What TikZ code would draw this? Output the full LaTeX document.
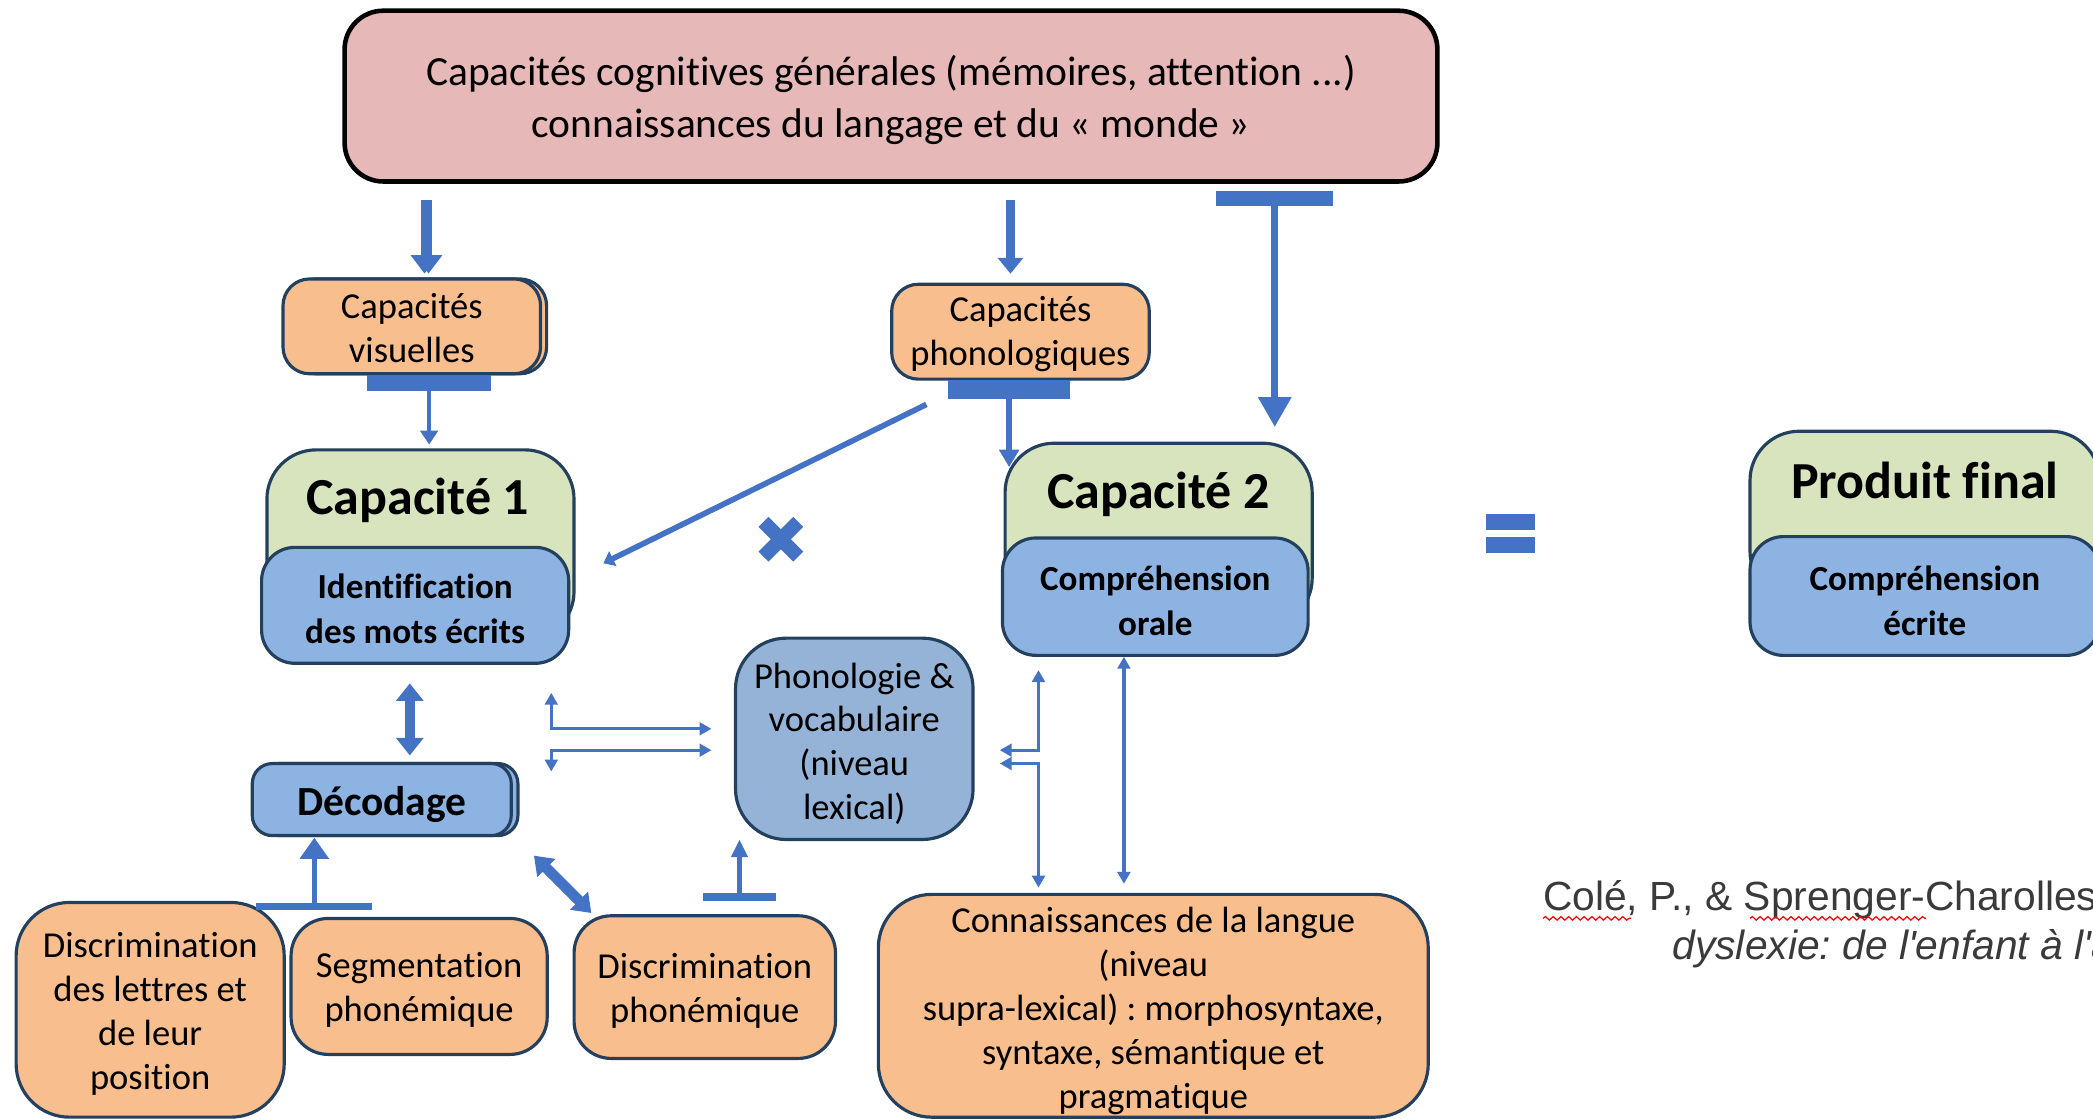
\documentclass[tikz,border=0pt]{standalone}
\usepackage{fontspec}
\setmainfont{Carlito}[Ligatures=NoCommon]
\newfontfamily\arialf{Liberation Sans}
\usetikzlibrary{arrows.meta,decorations.pathmorphing,calc}
\definecolor{abl}{HTML}{4472C4}
\definecolor{bord}{HTML}{24405F}
\definecolor{org}{HTML}{F8BE8D}
\definecolor{grn}{HTML}{D7E4BD}
\definecolor{blu}{HTML}{8DB3E2}
\definecolor{blu2}{HTML}{95B3D7}
\definecolor{pnk}{HTML}{E6B8B7}
\definecolor{cgrey}{HTML}{3A3A3A}
\frenchspacing
\tikzset{
  every node/.style={inner sep=0pt, outer sep=0pt},
  bx/.style={draw=bord, line width=0.9pt},
  orgbox/.style={bx, fill=org},
  orgtxt/.style={align=center, font=\fontsize{10.4}{12.5}\selectfont, yshift=-1.1pt},
  grnbox/.style={bx, fill=grn, rounded corners=14pt, minimum width=87.4pt},
  blubox/.style={bx, fill=blu, rounded corners=9.5pt},
  blutxt/.style={align=center, font=\bfseries\fontsize{10}{12.8}\selectfont, yshift=-1.1pt},
  headtxt/.style={font=\bfseries\fontsize{14.8}{18}\selectfont},
  conn/.style={draw=abl, line cap=butt},
  tbar/.style={fill=abl},
  thin2/.style={conn, line width=0.9pt, {Triangle[width=3.6pt,length=3.4pt]}-{Triangle[width=3.6pt,length=3.4pt]}}
}
\begin{document}
\begin{tikzpicture}[x=0.013348cm, y=-0.013348cm]
\useasboundingbox (0,0) rectangle (1568,838);
\clip (0,0) rectangle (1568,838);

% ---------- top box
\node[bx, fill=pnk, draw=black, line width=1.3pt, rounded corners=11pt,
      minimum width=311pt, minimum height=48.6pt] (top) at (667.5,72) {};
\node[align=center, font=\fontsize{11.8}{14.8}\selectfont, yshift=-1.1pt] (topt) at (top)
  {Capacités cognitives générales (mémoires, attention ...)\\connaissances du langage et du «~monde~»};

% ---------- capacities boxes
\node[orgbox, rounded corners=7.6pt, minimum width=73.3pt, minimum height=27pt] (visb) at (313,244.5) {};
\node[orgbox, rounded corners=7.6pt, minimum width=73.3pt, minimum height=27pt] (vis) at (308.5,244.5) {};
\node[orgtxt, yshift=0.6pt] (vist) at (vis) {Capacités\\visuelles};
\node[orgbox, rounded corners=7.6pt, minimum width=73.3pt, minimum height=27pt] (pho) at (764.5,248.5) {};
\node[orgtxt, yshift=0.5pt] (phot) at (pho) {Capacités\\phonologiques};

% ---------- Capacité 1
\node[grnbox, minimum height=54.3pt] (cap1g) at (315,408.5) {};
\node[headtxt] (cap1t) at (313,375) {Capacité 1};
\node[blubox, minimum width=87.4pt, minimum height=33pt] (cap1b) at (311,453.5) {};
\node[blutxt] (cap1bt) at (cap1b) {Identification\\des mots écrits};

% ---------- Capacité 2
\node[grnbox, minimum height=52.4pt] (cap2g) at (868,401) {};
\node[headtxt] (cap2t) at (868,370) {Capacité 2};
\node[blubox, minimum width=87pt, minimum height=33.4pt] (cap2b) at (865.5,447) {};
\node[blutxt] (cap2bt) at (cap2b) {Compréhension\\orale};

% ---------- Produit final
\node[grnbox, minimum width=99.5pt, minimum height=48.2pt] (prodg) at (1442,386.5) {};
\node[headtxt] (prodt) at (1442,360) {Produit final};
\node[blubox, minimum width=99.5pt, minimum height=33.8pt] (prodb) at (1442,446.5) {};
\node[blutxt, yshift=-0.3pt] (prodbt) at (prodb) {Compréhension\\écrite};

% ---------- operators
\fill[abl] (1113,385) rectangle (1150,397);
\fill[abl] (1113,402) rectangle (1150,414);
\draw[abl, line width=4pt] (572,391) -- (598,417);
\draw[abl, line width=4pt] (598,391) -- (572,417);

% ---------- Décodage
\node[bx, fill=blu, rounded corners=5.7pt, minimum width=73.7pt, minimum height=20.5pt] (decb) at (291,599) {};
\node[bx, fill=blu, rounded corners=5.7pt, minimum width=73.7pt, minimum height=20.5pt] (dec) at (286,599) {};
\node[font=\bfseries\fontsize{11.8}{14}\selectfont, yshift=-1.5pt] (dect) at (dec) {Décodage};

% ---------- Phonologie & vocabulaire
\node[bx, fill=blu2, rounded corners=14.4pt, minimum width=67.6pt, minimum height=57.3pt] (phv) at (640,553.5) {};
\node[orgtxt, yshift=-0.3pt] (phvt) at (phv) {Phonologie \&\\vocabulaire\\(niveau\\lexical)};

% ---------- bottom boxes
\node[orgbox, rounded corners=15.2pt, minimum width=76.3pt, minimum height=61.1pt] (dlp) at (112.5,756.5) {};
\node[orgtxt] (dlpt) at (dlp) {Discrimination\\des lettres et\\de leur\\position};
\node[orgbox, rounded corners=10.6pt, minimum width=72.9pt, minimum height=38.7pt] (seg) at (314,739) {};
\node[orgtxt] (segt) at (seg) {Segmentation\\phonémique};
\node[orgbox, rounded corners=10.6pt, minimum width=74.4pt, minimum height=40.6pt] (dph) at (528,739.5) {};
\node[orgtxt] (dpht) at (dph) {Discrimination\\phonémique};
\node[orgbox, rounded corners=15.2pt, minimum width=156.5pt, minimum height=63.4pt] (conn) at (864,753.5) {};
\node[orgtxt, yshift=-0.4pt] (connt) at (conn)
  {Connaissances de la langue\\(niveau\\supra-lexical) : morphosyntaxe,\\syntaxe, sémantique et\\pragmatique};

% ---------- citation
\node[anchor=base west, font=\arialf\fontsize{11.6}{14}\selectfont, text=cgrey] (cit1) at (1156,682)
  {Colé, P., \& Sprenger-Charolles, L.};
\node[anchor=base west, font=\arialf\itshape\fontsize{11.6}{14}\selectfont, text=cgrey] (cit2) at (1253,719)
  {dyslexie: de l'enfant à l'adulte};
\draw[red, line width=0.35pt, decorate, decoration={snake, amplitude=0.5pt, segment length=2.2pt}]
  (cit1.base west) ++(0,6) -- ++(66,0);
\draw[red, line width=0.35pt, decorate, decoration={snake, amplitude=0.5pt, segment length=2.2pt}]
  (cit1.base west) ++(155,6) -- ++(132,0);

% ---------- T bars
\node[tbar, minimum width=33.4pt, minimum height=4.2pt] (bar3) at (955,148.5) {};
\node[tbar, minimum width=35.3pt, minimum height=4.6pt] (bar1) at (321.5,287) {};
\node[tbar, minimum width=34.9pt, minimum height=5.3pt] (bar2) at (756,292) {};
\node[tbar, minimum width=33pt, minimum height=1.9pt] (barD) at (235.5,679) {};
\node[tbar, minimum width=20.5pt, minimum height=2.3pt] (barP) at (554,672) {};

% ---------- coordinates
\coordinate (a1) at (321,0);
\coordinate (a1b) at (318,0);
\coordinate (a2) at (757,0);
\coordinate (d1) at (307,0);
\coordinate (vx) at (842,0);
\coordinate (p1e) at (756,350);
\coordinate (dgs) at (694,303);
\coordinate (dge) at (452,422);
\coordinate (dds) at (400,641);
\coordinate (dde) at (443,684);
\coordinate (fl1a) at (413,519);
\coordinate (fl1b) at (533,546);
\coordinate (fl2a) at (413,578);
\coordinate (fl2b) at (533,562);
\coordinate (fr1a) at (778,502);
\coordinate (fr1b) at (749,562);
\coordinate (fr2a) at (749,572);
\coordinate (fr2b) at (778,665);

% ---------- connectors
\draw[conn, line width=2.2pt, -{Triangle[width=7.6pt,length=5.3pt]}, shorten <=5.3pt, shorten >=1.5pt]
  (top.south -| a1) -- (vis.north -| a1);
\draw[conn, line width=2.2pt, -{Triangle[width=7.6pt,length=5.3pt]}, shorten <=5.3pt, shorten >=1.5pt]
  (top.south -| a1b) -- (vis.north -| a1b);
\draw[conn, line width=2.3pt, -{Triangle[width=7pt,length=4.5pt]}, shorten <=5.3pt, shorten >=3pt]
  (top.south -| a2) -- (pho.north -| a2);
\draw[conn, line width=2pt, -{Triangle[width=9pt,length=8.5pt]}, shorten >=4.6pt]
  (bar3.south) -- (bar3.south |- cap2g.north);
\draw[conn, line width=1.3pt, -{Triangle[width=5pt,length=4pt]}, shorten >=1.5pt]
  (bar1.south) -- (bar1.south |- cap1g.north);
\draw[conn, line width=1.6pt, -{Triangle[width=5.5pt,length=5pt]}]
  (bar2.south) -- (p1e);
\draw[conn, line width=1.6pt, -{Triangle[width=4.5pt,length=3pt]}] (dgs) -- (dge);
\draw[conn, line width=3pt, {Triangle[width=7.6pt,length=5pt]}-{Triangle[width=7.6pt,length=5pt]},
      shorten <=5.7pt, shorten >=2.3pt] (cap1b.south -| d1) -- (dec.north -| d1);
\draw[conn, line width=1.6pt, -{Triangle[width=8pt,length=6pt]}, shorten >=0.6pt]
  (barD.north) -- (barD.north |- dec.south);
\draw[conn, line width=1.2pt, -{Triangle[width=4.5pt,length=5pt]}]
  (barP.north) -- (barP.north |- phv.south);
\draw[conn, line width=3pt, {Triangle[width=7pt,length=5pt]}-{Triangle[width=7pt,length=5pt]}] (dds) -- (dde);
\draw[thin2] (fl1a) |- (fl1b);
\draw[thin2] (fl2a) |- (fl2b);
\draw[thin2] (fr1a) |- (fr1b);
\draw[thin2] (fr2a) -| (fr2b);
\draw[conn, line width=1.1pt, {Triangle[width=3.6pt,length=3.4pt]}-{Triangle[width=3.6pt,length=3.4pt]},
      shorten <=0.4pt, shorten >=3pt] (cap2b.south -| vx) -- (conn.north -| vx);
\end{tikzpicture}
\end{document}
